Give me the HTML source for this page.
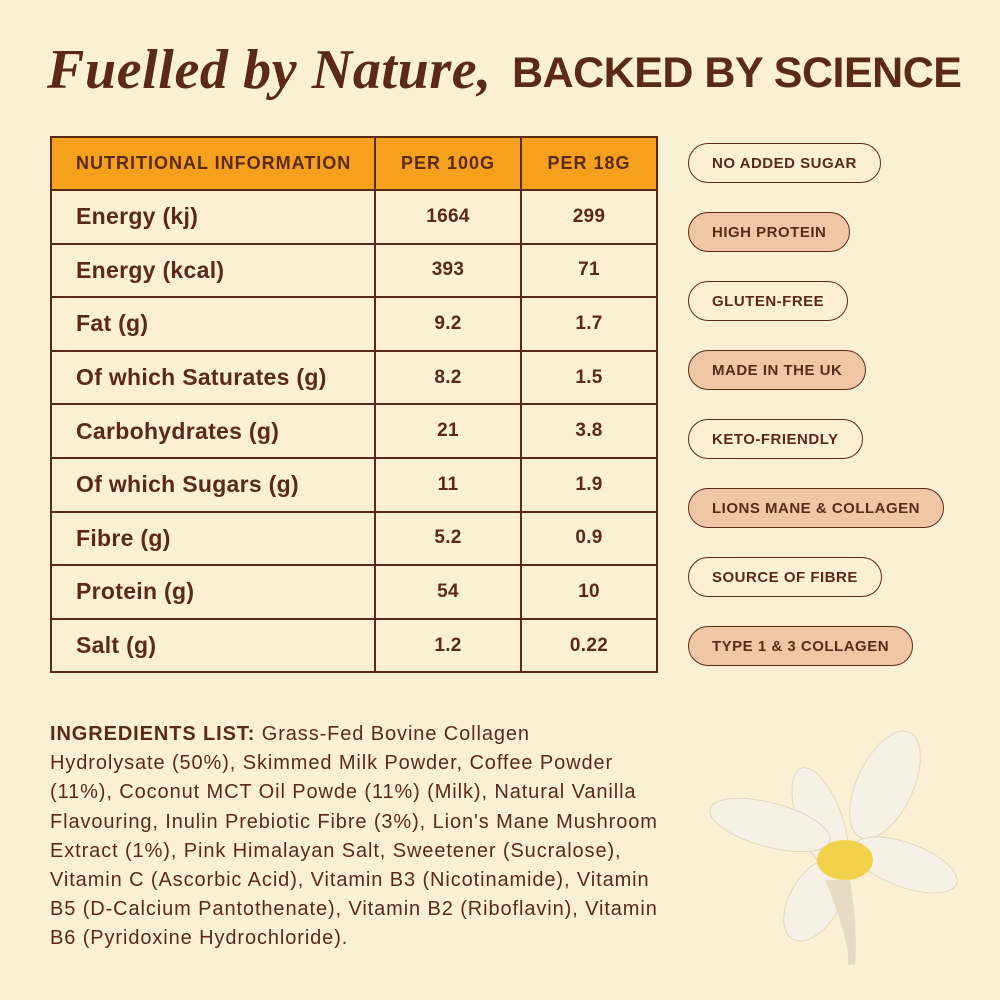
<!DOCTYPE html><html><head><style>
body{margin:0;width:1000px;height:1000px;background:#fbf0d3;position:relative;overflow:hidden;font-family:"Liberation Sans",sans-serif;color:#5b2a17}
.t1{position:absolute;left:47px;top:38px;font-family:"Liberation Serif",serif;font-weight:bold;font-style:italic;font-size:56px;white-space:nowrap;letter-spacing:0.6px}
.t2{position:absolute;left:512px;top:49px;font-weight:bold;font-size:43px;white-space:nowrap;letter-spacing:-0.5px}
table{position:absolute;left:50px;top:136px;border-collapse:collapse;width:608px}
td{border:2px solid #5b2a17;height:51.6px;font-weight:bold;font-size:23px;padding:0;text-align:center;letter-spacing:0.3px}
td:first-child{text-align:left;padding-left:24px;width:298px}
td:nth-child(2){width:144px}
tr.h td{background:#f5a11d;font-size:18px;height:51px;letter-spacing:1px}
tr:not(.h) td:not(:first-child){font-size:19px}
.p{position:absolute;left:688px;height:38px;border:1.5px solid #5b2a17;border-radius:21px;font-weight:bold;font-size:15px;line-height:40px;padding:0 23px;letter-spacing:0.5px;white-space:nowrap}
.f{background:#f0c7a6}
.ing{position:absolute;left:50px;top:720px;font-size:20px;line-height:29.2px;white-space:nowrap;letter-spacing:0.9px}
</style></head><body>
<div class="t1">Fuelled by Nature,</div><div class="t2">BACKED BY SCIENCE</div>
<table>
<tr class="h"><td>NUTRITIONAL INFORMATION</td><td>PER 100G</td><td>PER 18G</td></tr>
<tr><td>Energy (kj)</td><td>1664</td><td>299</td></tr>
<tr><td>Energy (kcal)</td><td>393</td><td>71</td></tr>
<tr><td>Fat (g)</td><td>9.2</td><td>1.7</td></tr>
<tr><td>Of which Saturates (g)</td><td>8.2</td><td>1.5</td></tr>
<tr><td>Carbohydrates (g)</td><td>21</td><td>3.8</td></tr>
<tr><td>Of which Sugars (g)</td><td>11</td><td>1.9</td></tr>
<tr><td>Fibre (g)</td><td>5.2</td><td>0.9</td></tr>
<tr><td>Protein (g)</td><td>54</td><td>10</td></tr>
<tr><td>Salt (g)</td><td>1.2</td><td>0.22</td></tr>
</table>
<div class="p" style="top:143px">NO ADDED SUGAR</div>
<div class="p f" style="top:212px">HIGH PROTEIN</div>
<div class="p" style="top:281px">GLUTEN-FREE</div>
<div class="p f" style="top:350px">MADE IN THE UK</div>
<div class="p" style="top:419px">KETO-FRIENDLY</div>
<div class="p f" style="top:488px">LIONS MANE &amp; COLLAGEN</div>
<div class="p" style="top:557px">SOURCE OF FIBRE</div>
<div class="p f" style="top:626px">TYPE 1 &amp; 3 COLLAGEN</div>
<div class="ing"><b>INGREDIENTS LIST:</b> Grass-Fed Bovine Collagen<br>Hydrolysate (50%), Skimmed Milk Powder, Coffee Powder<br>(11%), Coconut MCT Oil Powde (11%) (Milk), Natural Vanilla<br>Flavouring, Inulin Prebiotic Fibre (3%), Lion's Mane Mushroom<br>Extract (1%), Pink Himalayan Salt, Sweetener (Sucralose),<br>Vitamin C (Ascorbic Acid), Vitamin B3 (Nicotinamide), Vitamin<br>B5 (D-Calcium Pantothenate), Vitamin B2 (Riboflavin), Vitamin<br>B6 (Pyridoxine Hydrochloride).</div>
<svg style="position:absolute;left:700px;top:730px" width="270" height="240">
<g fill="#f6f1e4" stroke="#e0d6bd" stroke-width="1">
<ellipse cx="185" cy="55" rx="28" ry="58" transform="rotate(25 185 55)"/>
<ellipse cx="120" cy="90" rx="22" ry="55" transform="rotate(-20 120 90)"/>
<ellipse cx="70" cy="95" rx="62" ry="22" transform="rotate(15 70 95)"/>
<ellipse cx="205" cy="135" rx="55" ry="22" transform="rotate(20 205 135)"/>
<ellipse cx="115" cy="170" rx="25" ry="45" transform="rotate(30 115 170)"/>
</g>
<ellipse cx="145" cy="130" rx="28" ry="20" fill="#f2d24a"/>
<path d="M125 150 Q150 210 148 235 L155 235 Q158 200 150 150Z" fill="#e6dcc4"/>
</svg>
</body></html>
